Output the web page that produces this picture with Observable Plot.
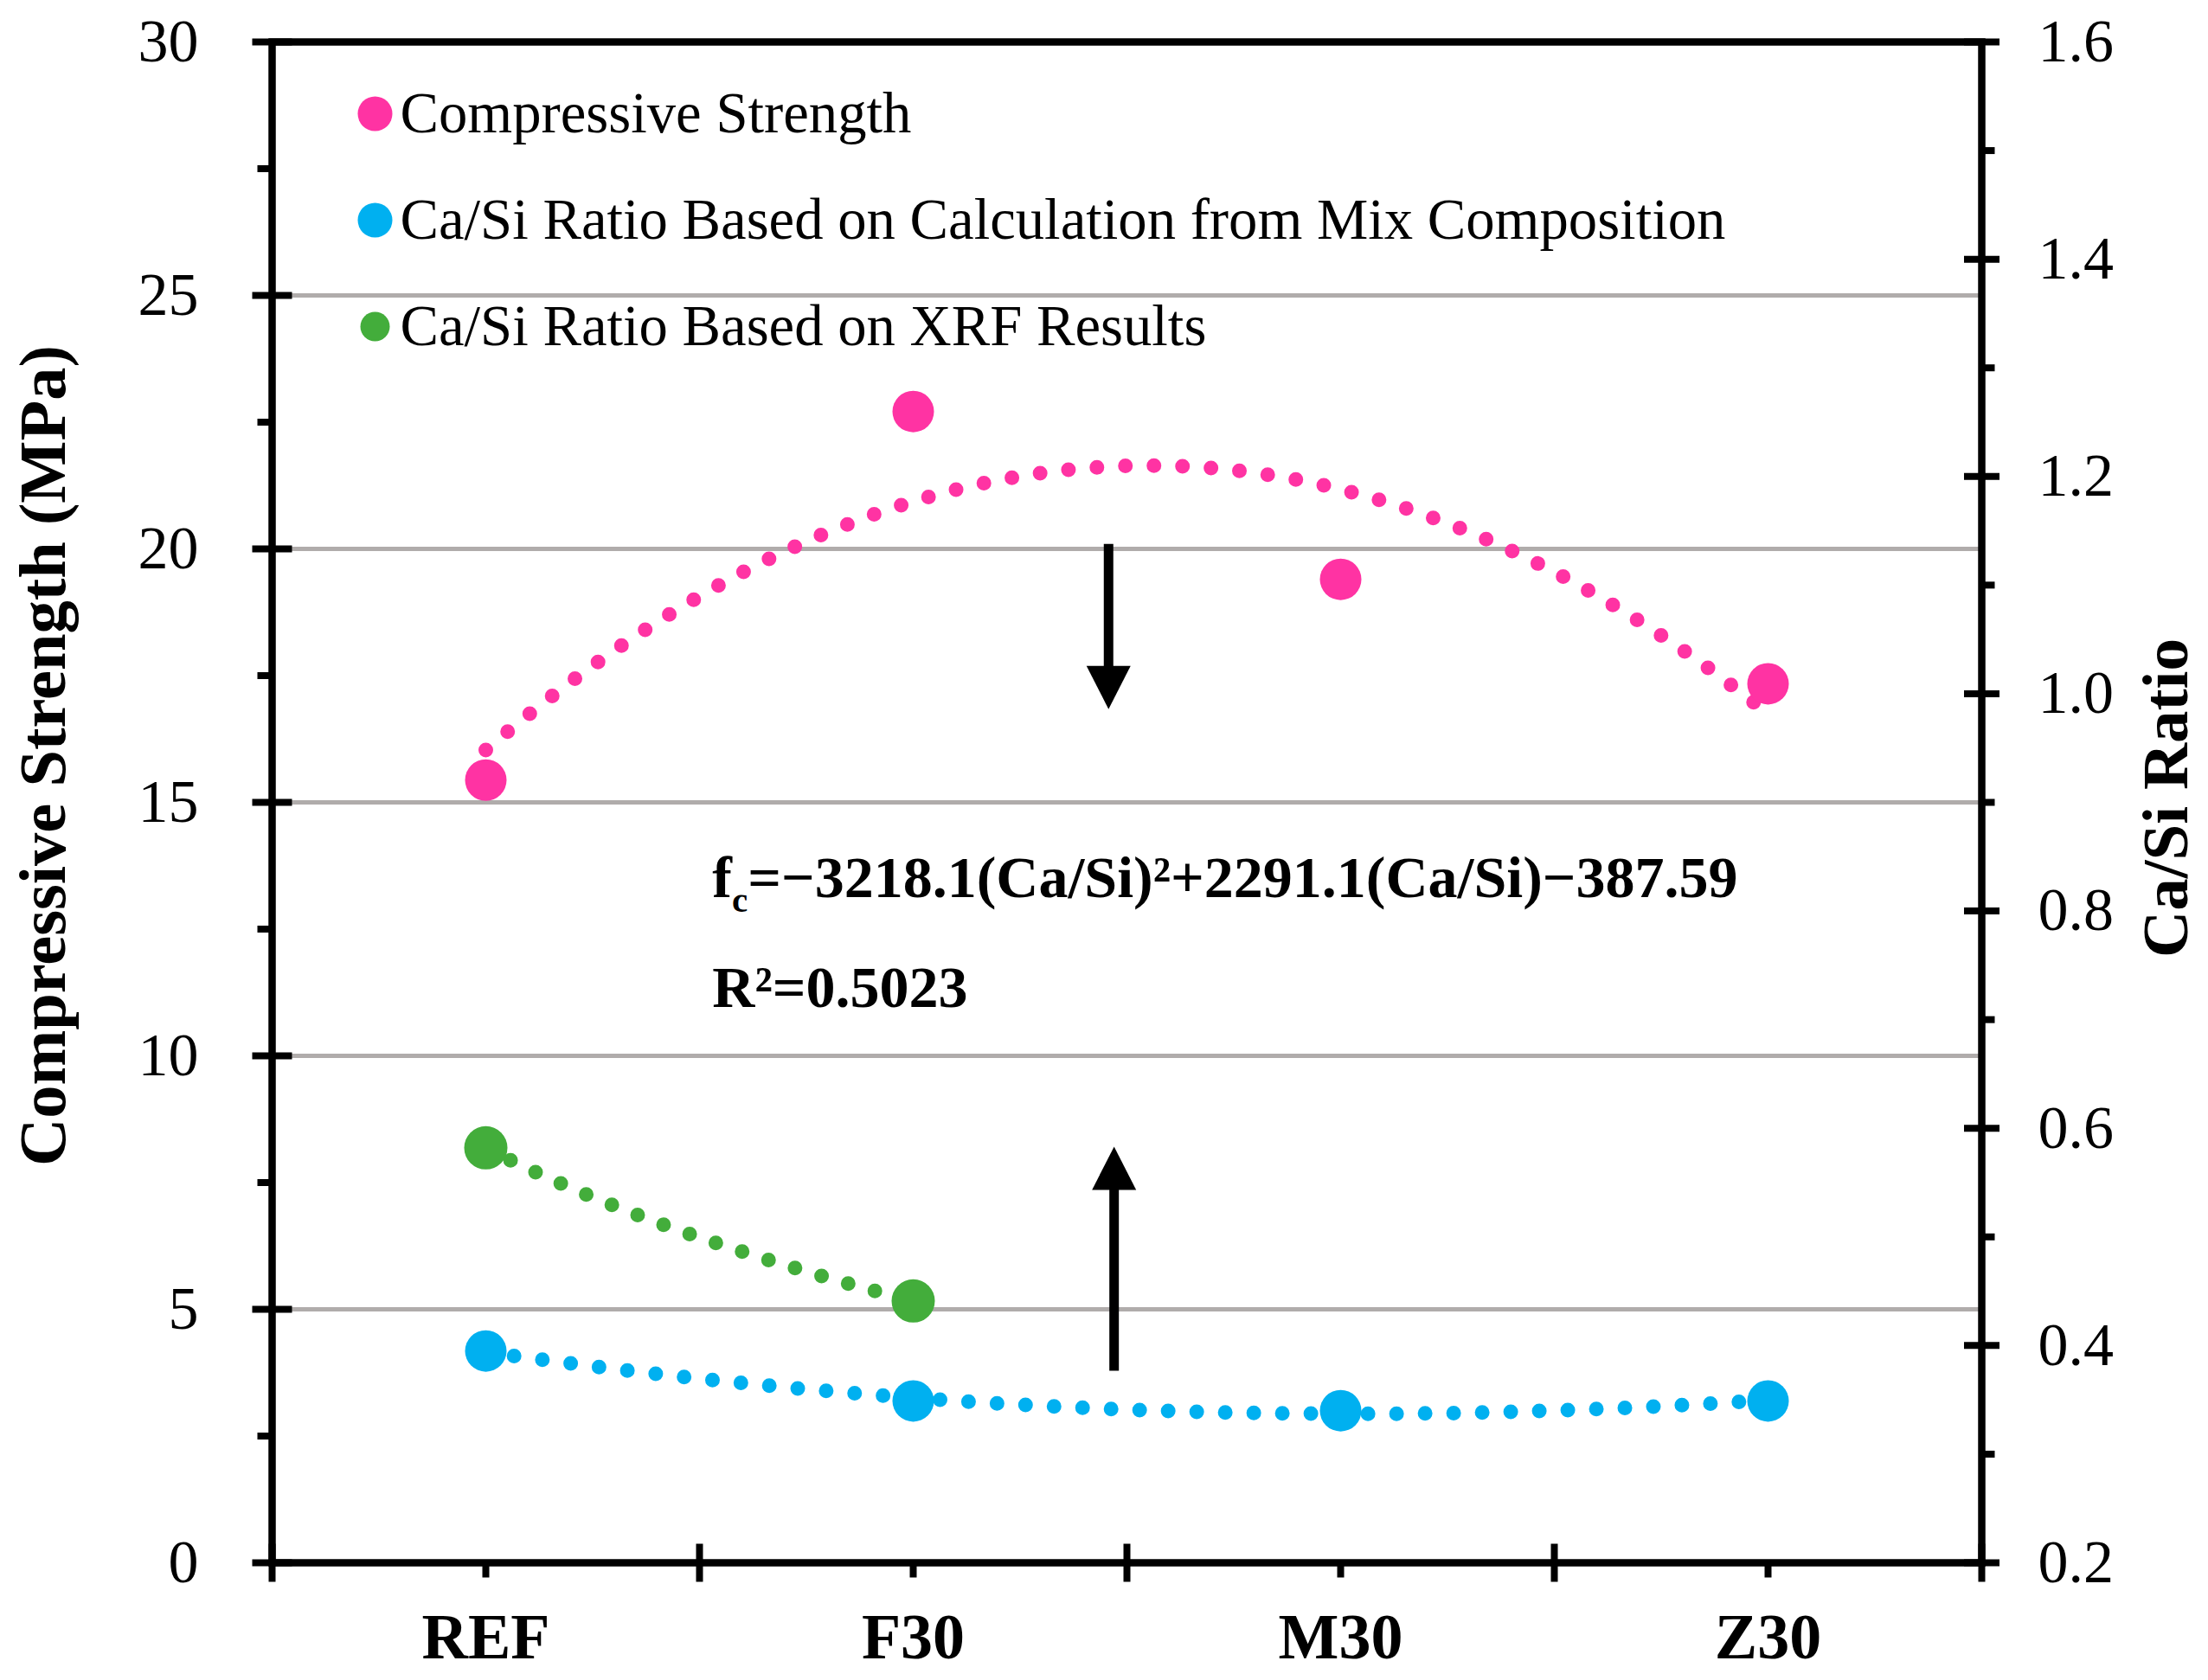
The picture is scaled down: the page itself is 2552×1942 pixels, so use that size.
<!DOCTYPE html>
<html>
<head>
<meta charset="utf-8">
<script src="https://cdn.jsdelivr.net/npm/d3@7"></script>
<script src="https://cdn.jsdelivr.net/npm/@observablehq/plot@0.6"></script>
<style>
  body { margin: 0; background: #fff; }
  #chart { width: 2552px; height: 1942px; }
</style>
</head>
<body>
<div id="chart"></div>
<script>
// ---------------- data ----------------
const categories = ["REF", "F30", "M30", "Z30"];
const compressiveStrength = [15.44, 22.71, 19.40, 17.34];   // MPa (left axis)
const caSiCalculated = [0.395, 0.349, 0.340, 0.349];         // Ca/Si (right axis)
const caSiXRF = [0.582, 0.441];                              // REF, F30 (right axis)
const leftTicks = [0, 5, 10, 15, 20, 25, 30];
const leftMinorTicks = [2.5, 7.5, 12.5, 17.5, 22.5, 27.5];
const rightTicks = [0.2, 0.4, 0.6, 0.8, 1.0, 1.2, 1.4, 1.6];
const rightMinorTicks = [0.3, 0.5, 0.7, 0.9, 1.1, 1.3, 1.5];
const gridValues = [5, 10, 15, 20, 25];
const seriesNames = [
  "Compressive Strength",
  "Ca/Si Ratio Based on Calculation from Mix Composition",
  "Ca/Si Ratio Based on XRF Results"
];
const equationText = "fc=\u22123218.1(Ca/Si)\u00b2+2291.1(Ca/Si)\u2212387.59";
const r2Text = "R\u00b2=0.5023";
const yLabelLeft = "Compressive Strength (MPa)";
const yLabelRight = "Ca/Si Ratio";
// annotation arrows (x position between F30 and M30, MPa values)
const arrowX = [2.457, 2.470];
const arrowFrom = [20.09, 3.78];
const arrowTo = [16.84, 8.21];

// ---------------- helpers ----------------
const pink = "#FF33A3", blue = "#00B0F0", green = "#43AD3B";
const seriesColors = [pink, blue, green];
const font = "'Liberation Serif', 'Times New Roman', serif";
const R0 = 0.2, R1 = 1.6, YMAX = 30;
const toLeft = r => (r - R0) / (R1 - R0) * YMAX;
const toRight = v => R0 + v * (R1 - R0) / YMAX;

// least-squares fit (Excel-style trendlines)
function lsq(xs, ys, basis) {
  const m = basis.length;
  const A = Array.from({length: m}, () => new Array(m + 1).fill(0));
  xs.forEach((x, i) => {
    const b = basis.map(f => f(x));
    for (let r = 0; r < m; r++) {
      for (let c = 0; c < m; c++) A[r][c] += b[r] * b[c];
      A[r][m] += b[r] * ys[i];
    }
  });
  for (let c = 0; c < m; c++) {
    let p = c;
    for (let r = c + 1; r < m; r++) if (Math.abs(A[r][c]) > Math.abs(A[p][c])) p = r;
    [A[c], A[p]] = [A[p], A[c]];
    for (let r = 0; r < m; r++) {
      if (r === c) continue;
      const f = A[r][c] / A[c][c];
      for (let k = c; k <= m; k++) A[r][k] -= f * A[c][k];
    }
  }
  const coef = A.map((row, i) => row[m] / row[i]);
  return x => basis.reduce((s, f, i) => s + coef[i] * f(x), 0);
}
const quad = [x => 1, x => x, x => x * x];
const logb = [x => 1, x => Math.log(x)];
const idx = a => a.map((_, i) => i + 1);

const fitStrength = lsq(idx(compressiveStrength), compressiveStrength, quad);
const fitCalc = lsq(idx(caSiCalculated), caSiCalculated, quad);
const fitXRF = lsq(idx(caSiXRF), caSiXRF, logb);
const sample = (x0, x1, f) => d3.range(0, 301).map(i => { const x = x0 + (x1 - x0) * i / 300; return {x, y: f(x)}; });
const trendStrength = sample(1, 4, fitStrength);
const trendCalc = sample(1, 4, x => toLeft(fitCalc(x)));
const trendXRF = sample(1, 2, x => toLeft(fitXRF(x)));

const pts = categories.map((c, i) => ({x: i + 1, cat: c, s: compressiveStrength[i], calc: toLeft(caSiCalculated[i])}));
const ptsXRF = caSiXRF.map((v, i) => ({x: i + 1, v: toLeft(v)}));
const arrows = arrowX.map((x, i) => ({x, from: arrowFrom[i], to: arrowTo[i]}));
const downArrows = arrows.filter(d => d.to < d.from);
const upArrows = arrows.filter(d => d.to > d.from);

// shapes for ticks and arrowheads
const seg = {draw(ctx, l) { ctx.moveTo(0, 0); ctx.lineTo(0, -l); }};
const tri = {draw(ctx, l) { ctx.moveTo(-25.5, 0); ctx.lineTo(25.5, 0); ctx.lineTo(0, -l); ctx.closePath(); }};
const tickStyle = {shape: seg, stroke: "black", strokeWidth: 8, strokeLinecap: "butt"};

const legendMarks = seriesNames.flatMap((name, i) => [
  Plot.dot([name], {frameAnchor: "top-left", dx: 119, dy: 83 + 123 * i, r: i === 2 ? 17 : 20, fill: seriesColors[i], stroke: "none"}),
  Plot.text([name], {frameAnchor: "top-left", dx: 148, dy: 83 + 123 * i, text: d => d, textAnchor: "start", lineAnchor: "middle", fontSize: 66.7, fontFamily: font})
]);

const svg = Plot.plot({
  width: 2552,
  height: 1942,
  marginTop: 48,
  marginRight: 262,
  marginBottom: 136,
  marginLeft: 314,
  style: {fontFamily: font, fontSize: "70px", background: "white", color: "black"},
  x: {type: "linear", domain: [0.5, 4.5], axis: null},
  y: {type: "linear", domain: [0, 30], axis: null},
  marks: [
    Plot.ruleY(gridValues, {stroke: "#B0ACAB", strokeWidth: 5}),
    // trendlines (dotted)
    Plot.line(trendStrength, {x: "x", y: "y", stroke: pink, strokeWidth: 17, strokeDasharray: "0 33", strokeLinecap: "round"}),
    Plot.line(trendCalc, {x: "x", y: "y", stroke: blue, strokeWidth: 17, strokeDasharray: "0 33", strokeLinecap: "round"}),
    Plot.line(trendXRF, {x: "x", y: "y", stroke: green, strokeWidth: 17, strokeDasharray: "0 32", strokeLinecap: "round"}),
    // points
    Plot.dot(pts, {x: "x", y: "s", r: 24, fill: pink, stroke: "none"}),
    Plot.dot(pts, {x: "x", y: "calc", r: 24, fill: blue, stroke: "none"}),
    Plot.dot(ptsXRF, {x: "x", y: "v", r: 25, fill: green, stroke: "none"}),
    // arrows
    Plot.ruleX(downArrows, {x: "x", y1: "from", y2: "to", stroke: "black", strokeWidth: 11, insetBottom: 45}),
    Plot.ruleX(upArrows, {x: "x", y1: "to", y2: "from", stroke: "black", strokeWidth: 11, insetTop: 45}),
    Plot.vector(downArrows, {x: "x", y: "to", rotate: 180, length: 50, anchor: "end", shape: tri, fill: "black", stroke: "none"}),
    Plot.vector(upArrows, {x: "x", y: "to", rotate: 0, length: 50, anchor: "end", shape: tri, fill: "black", stroke: "none"}),
    // equation
    Plot.text([equationText], {x: () => 1.53, y: () => 13.51, text: d => d, textAnchor: "start", lineAnchor: "middle", fontWeight: "bold", fontSize: 68, fontFamily: font}),
    Plot.text([r2Text], {x: () => 1.53, y: () => 11.33, text: d => d, textAnchor: "start", lineAnchor: "middle", fontWeight: "bold", fontSize: 68, fontFamily: font}),
    // legend
    ...legendMarks,
    // frame
    Plot.frame({stroke: "black", strokeWidth: 8.5}),
    // ticks: left axis
    Plot.vector(leftTicks, {x: () => 0.5, y: d => d, rotate: 90, anchor: "middle", length: 46, ...tickStyle}),
    Plot.vector(leftMinorTicks, {x: () => 0.5, y: d => d, rotate: -90, anchor: "start", length: 17, ...tickStyle}),
    // ticks: right axis
    Plot.vector(rightTicks, {x: () => 4.5, y: d => toLeft(d), rotate: 90, anchor: "middle", length: 41, ...tickStyle}),
    Plot.vector(rightMinorTicks, {x: () => 4.5, y: d => toLeft(d), rotate: 90, anchor: "start", length: 15, ...tickStyle}),
    // ticks: bottom axis
    Plot.vector([0.5, 1.5, 2.5, 3.5, 4.5], {x: d => d, y: () => 0, rotate: 0, anchor: "middle", length: 44, ...tickStyle}),
    Plot.vector(idx(categories), {x: d => d, y: () => 0, rotate: 180, anchor: "start", length: 17, ...tickStyle}),
    // tick labels
    Plot.axisY(leftTicks, {anchor: "left", tickSize: 0, tickPadding: 85, fontSize: 70, label: null, tickFormat: d => String(d)}),
    Plot.axisY(rightTicks.map(toLeft), {anchor: "right", tickSize: 0, tickPadding: 65, fontSize: 70, label: null, tickFormat: v => toRight(v).toFixed(1)}),
    Plot.axisX(idx(categories), {anchor: "bottom", tickSize: 0, tickPadding: 58, fontSize: 74, fontWeight: "bold", label: null, tickFormat: d => categories[d - 1]}),
    // axis titles
    Plot.text([yLabelLeft], {frameAnchor: "left", dx: -264, dy: -54, rotate: -90, textAnchor: "middle", lineAnchor: "middle", text: d => d, fontWeight: "bold", fontSize: 76.5, fontFamily: font}),
    Plot.text([yLabelRight], {frameAnchor: "right", dx: 213, dy: -5, rotate: -90, textAnchor: "middle", lineAnchor: "middle", text: d => d, fontWeight: "bold", fontSize: 75, fontFamily: font})
  ]
});

// subscript "c" in f_c
d3.select(svg).selectAll("text").filter(function() { return this.textContent === equationText; }).each(function() {
  const t = d3.select(this);
  t.text(null);
  t.append("tspan").text(equationText.slice(0, 1));
  t.append("tspan").attr("dy", 17).attr("font-size", 41).text(equationText.slice(1, 2));
  t.append("tspan").attr("dy", -17).text(equationText.slice(2));
});

document.getElementById("chart").appendChild(svg);
</script>
</body>
</html>
